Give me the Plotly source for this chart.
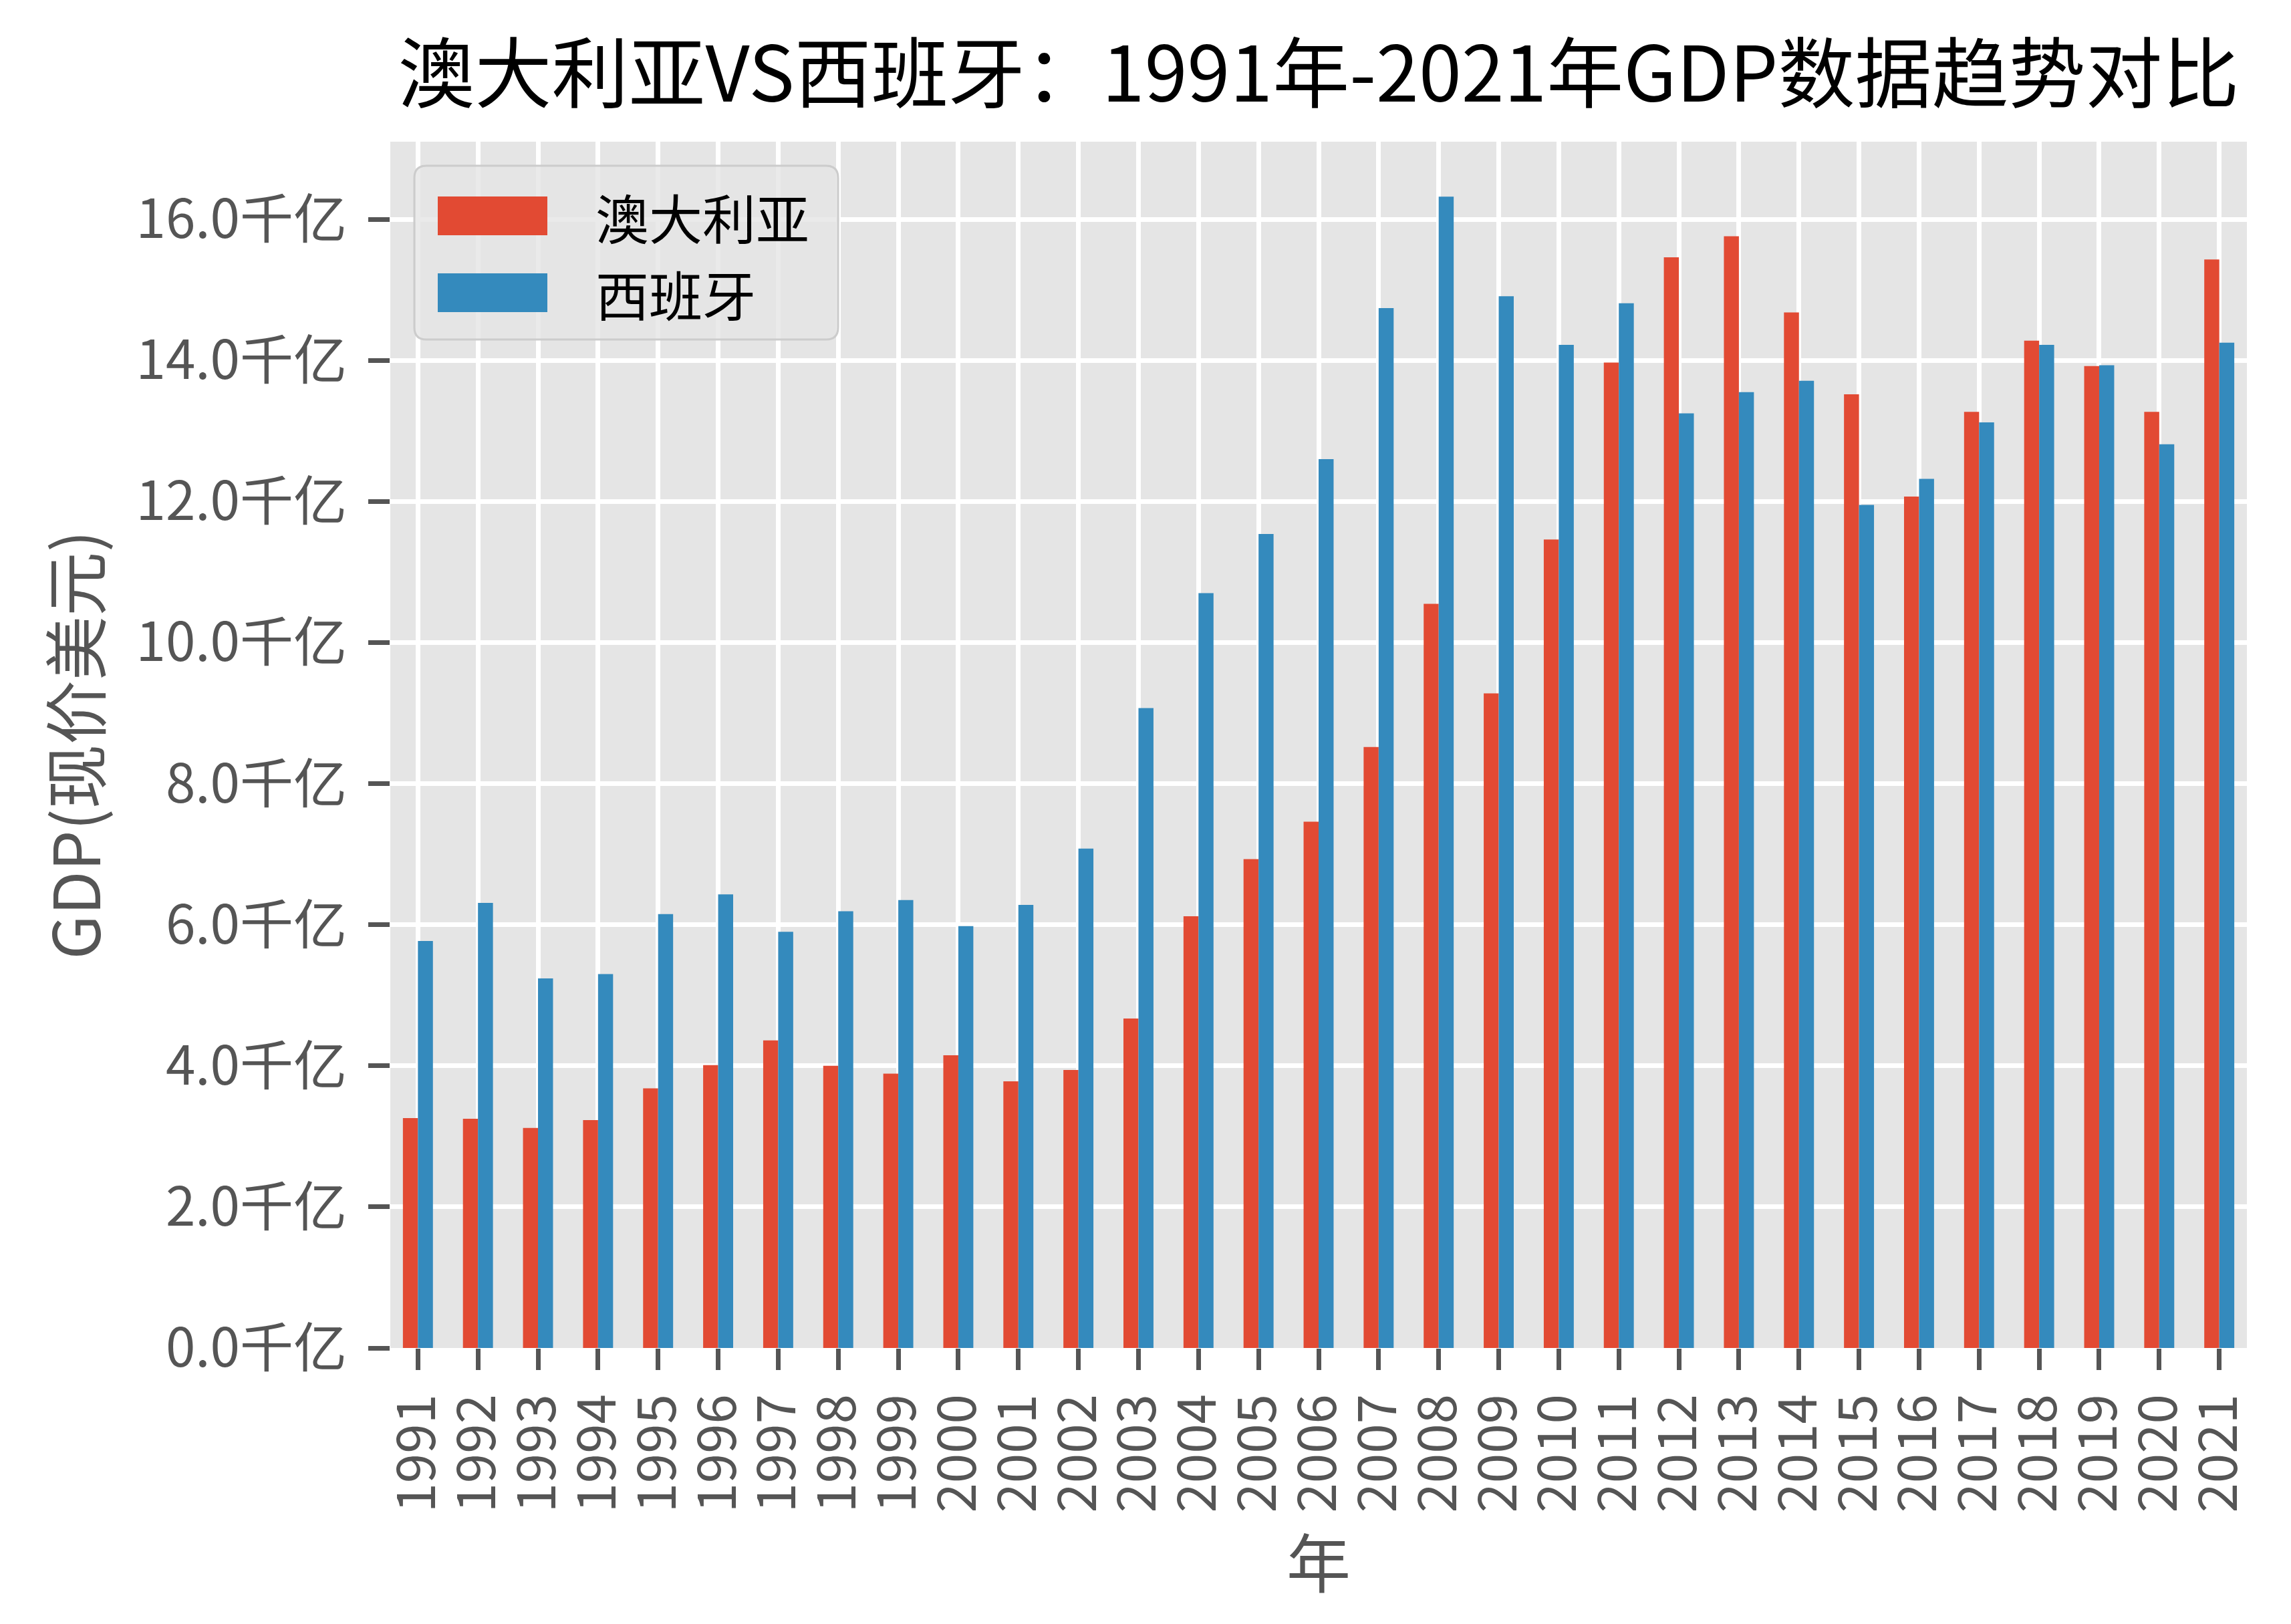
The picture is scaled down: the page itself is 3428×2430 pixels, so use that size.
import plotly.graph_objects as go

years = [str(y) for y in range(1991, 2022)]
australia = [3.26, 3.25, 3.12, 3.23, 3.68, 4.01, 4.36, 4.00, 3.89, 4.15,
             3.78, 3.94, 4.67, 6.12, 6.93, 7.46, 8.52, 10.55, 9.28, 11.46,
             13.97, 15.46, 15.76, 14.68, 13.52, 12.07, 13.27, 14.28, 13.92, 13.27, 15.43]
spain = [5.77, 6.31, 5.24, 5.30, 6.15, 6.43, 5.90, 6.19, 6.35, 5.98,
         6.28, 7.08, 9.07, 10.70, 11.54, 12.60, 14.74, 16.32, 14.91, 14.22,
         14.81, 13.25, 13.55, 13.71, 11.95, 12.32, 13.12, 14.22, 13.93, 12.81, 14.25]
series_names = ["澳大利亚", "西班牙"]
colors = ["#E24A33", "#348ABD"]
ytick_vals = [0, 2, 4, 6, 8, 10, 12, 14, 16]
ytick_text = ["0.0千亿", "2.0千亿", "4.0千亿", "6.0千亿", "8.0千亿",
              "10.0千亿", "12.0千亿", "14.0千亿", "16.0千亿"]
title_text = "澳大利亚VS西班牙：1991年-2021年GDP数据趋势对比"

W, H = 3428, 2430
L, R, T, B = 584, 3362, 212, 2017
FONT = "Noto Sans CJK SC"


def px(x):
    return (x - L) / (R - L)


def py(y):
    return (B - y) / (B - T)


fig = go.Figure()
for name, vals, col in zip(series_names, [australia, spain], colors):
    fig.add_trace(go.Bar(x=years, y=vals, name=name, marker_color=col,
                         marker_line_width=0, showlegend=False))

# manual legend (matplotlib style box)
x0, x1, y0, y1, r = 620, 1254, 248, 508, 18
rx, ry = r / (R - L), r / (B - T)
path = (f"M {px(x0)+rx},{py(y0)} L {px(x1)-rx},{py(y0)} Q {px(x1)},{py(y0)} {px(x1)},{py(y0)-ry} "
        f"L {px(x1)},{py(y1)+ry} Q {px(x1)},{py(y1)} {px(x1)-rx},{py(y1)} "
        f"L {px(x0)+rx},{py(y1)} Q {px(x0)},{py(y1)} {px(x0)},{py(y1)+ry} "
        f"L {px(x0)},{py(y0)-ry} Q {px(x0)},{py(y0)} {px(x0)+rx},{py(y0)} Z")
shapes = [dict(type="path", xref="paper", yref="paper", path=path,
               fillcolor="rgba(229,229,229,0.8)", line=dict(color="#CCCCCC", width=3),
               layer="above")]
annotations = []
for i, (name, col) in enumerate(zip(series_names, colors)):
    cy = 323 + i * 115
    shapes.append(dict(type="rect", xref="paper", yref="paper",
                       x0=px(655), x1=px(819), y0=py(cy - 29), y1=py(cy + 29),
                       fillcolor=col, line=dict(width=0), layer="above"))
    annotations.append(dict(text=name, xref="paper", yref="paper", x=px(889), y=py(cy),
                            xanchor="left", yanchor="middle", showarrow=False,
                            font=dict(family=FONT, size=80, color="black")))

fig.update_layout(
    width=W, height=H,
    margin=dict(l=L, r=W - R, t=T, b=H - B, autoexpand=False),
    paper_bgcolor="white", plot_bgcolor="#E5E5E5",
    barmode="group", bargap=0.5, bargroupgap=0,
    font=dict(family=FONT, color="#555555"),
    title=dict(text=title_text, x=0.5, xref="paper", xanchor="center",
               y=1 - 112 / H, yref="container", yanchor="middle",
               font=dict(family=FONT, size=115, color="black")),
    shapes=shapes, annotations=annotations,
    showlegend=False,
)
fig.update_xaxes(
    type="category", range=[-0.46, 30.46],
    tickmode="array", tickvals=years, ticktext=years,
    showgrid=True, gridcolor="white", gridwidth=7,
    showline=False,
    ticks="outside", ticklen=32, tickwidth=7, tickcolor="#555555",
    tickangle=-90, tickfont=dict(family=FONT, size=80, color="#555555"),
    ticklabelstandoff=4,
    title=dict(text="年", font=dict(family=FONT, size=96, color="#555555"), standoff=0),
    automargin=False,
)
fig.update_yaxes(
    range=[0, 17.1], tickvals=ytick_vals, ticktext=ytick_text,
    showgrid=True, gridcolor="white", gridwidth=7, zeroline=False,
    showline=False,
    ticks="outside", ticklen=32, tickwidth=7, tickcolor="#555555",
    tickfont=dict(family=FONT, size=80, color="#555555"),
    ticklabelstandoff=16,
    title=dict(text="GDP(现价美元)", font=dict(family=FONT, size=96, color="#555555"), standoff=20),
    automargin=False,
)

fig.write_html("out.html",
               config={"displayModeBar": False},
               post_script="document.body.style.margin='0';document.body.style.overflow='hidden';")
